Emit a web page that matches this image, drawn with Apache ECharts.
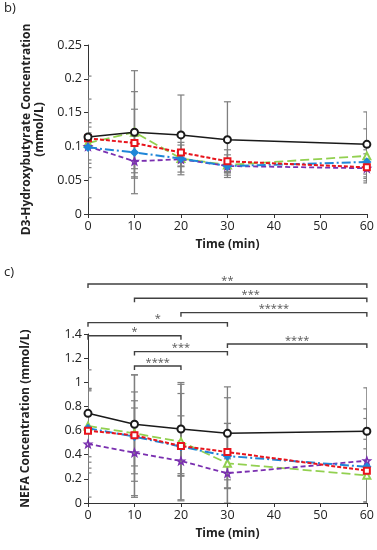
<!DOCTYPE html>
<html>
<head>
<meta charset="utf-8">
<script src="https://cdn.jsdelivr.net/npm/echarts@6/dist/echarts.min.js"></script>
<style>html,body{margin:0;padding:0;background:#fff}#c{width:377px;height:550px}</style>
</head>
<body>
<div id="c"></div>
<script>
// ---- data ----
var times = [0, 10, 20, 30, 60];
var xTicks = [0, 10, 20, 30, 40, 50, 60];

// Panel b) D3-Hydroxybutyrate (mmol/L)
var hbBlack  = [0.114, 0.121, 0.117, 0.110, 0.103];
var hbGreen  = [0.105, 0.121, 0.082, 0.0725, 0.086];
var hbRed    = [0.112, 0.105, 0.091, 0.078, 0.069];
var hbBlue   = [0.0986, 0.091, 0.082, 0.071, 0.077];
var hbPurple = [0.100, 0.078, 0.081, 0.071, 0.0676];
var hbBlackErr  = [0.090, 0.091, 0.059, 0.056, 0.048];
var hbGreenErr  = [0.030, 0.060, 0.020, 0.015, 0.040];
var hbRedErr    = [0.058, 0.050, 0.015, 0.017, 0.020];
var hbBlueErr   = [0.030, 0.024, 0.012, 0.010, 0.018];
var hbPurpleErr = [0.020, 0.025, 0.010, 0.008, 0.015];

// Panel c) NEFA (mmol/L)
var nfBlack  = [0.743, 0.652, 0.613, 0.577, 0.594];
var nfGreen  = [0.638, 0.577, 0.508, 0.329, 0.229];
var nfRed    = [0.599, 0.561, 0.472, 0.422, 0.268];
var nfBlue   = [0.619, 0.550, 0.467, 0.389, 0.300];
var nfPurple = [0.489, 0.417, 0.348, 0.246, 0.350];
var nfBlackErr  = [0.360, 0.410, 0.370, 0.385, 0.360];
var nfGreenErr  = [0.300, 0.270, 0.490, 0.330, 0.220];
var nfRedErr    = [0.350, 0.500, 0.250, 0.450, 0.260];
var nfBlueErr   = [0.330, 0.370, 0.440, 0.270, 0.400];
var nfPurpleErr = [0.440, 0.370, 0.120, 0.120, 0.430];

// significance brackets: [from, to, level, stars]
var bracketFrom  = [0, 10, 20, 0, 0, 30, 10, 10];
var bracketTo    = [60, 60, 60, 30, 20, 60, 30, 20];
var bracketLevel = [1.814, 1.696, 1.577, 1.494, 1.386, 1.317, 1.254, 1.135];
var bracketStars = ['**', '***', '*****', '*', '*', '****', '***', '****'];

// ---- build ----
var FONT = '"Open Sans", sans-serif';
var AX = '#333';
var names = ['black', 'green', 'red', 'blue', 'purple'];
var colors = {black: '#1a1a1a', green: '#92d050', red: '#e8141c', blue: '#1f86d8', purple: '#7a2fb0'};
var symbols = {
  black: 'emptyCircle', green: 'emptyTriangle', red: 'emptyRect', blue: 'diamond',
  purple: 'path://M0,-10L2.4,-3.3L9.5,-3.1L3.9,1.3L5.9,8.1L0,4.1L-5.9,8.1L-3.9,1.3L-9.5,-3.1L-2.4,-3.3Z'
};
var sizes = {black: 7, green: 7, red: 6, blue: 7, purple: 7};
var dashes = {black: 'solid', green: [9, 4], red: [4, 2], blue: [9, 3, 2, 3], purple: [5, 3]};
var widths = {black: 1.5, green: 1.8, red: 2, blue: 2, purple: 1.8};

var hbVals = {black: hbBlack, green: hbGreen, red: hbRed, blue: hbBlue, purple: hbPurple};
var hbErrs = {black: hbBlackErr, green: hbGreenErr, red: hbRedErr, blue: hbBlueErr, purple: hbPurpleErr};
var nfVals = {black: nfBlack, green: nfGreen, red: nfRed, blue: nfBlue, purple: nfPurple};
var nfErrs = {black: nfBlackErr, green: nfGreenErr, red: nfRedErr, blue: nfBlueErr, purple: nfPurpleErr};

function errSeries(idx, vals, errs) {
  return {
    type: 'custom', xAxisIndex: idx, yAxisIndex: idx, clip: true, z: 1, silent: true,
    data: times.map(function (t, i) { return [t, vals[i], errs[i]]; }),
    encode: {x: 0, y: 1},
    renderItem: function (params, api) {
      var x = api.value(0), v = api.value(1), e = api.value(2);
      var hi = api.coord([x, v + e]), lo = api.coord([x, v - e]);
      var w = 3.5;
      return {
        type: 'group', children: [
          {type: 'line', shape: {x1: hi[0], y1: hi[1], x2: lo[0], y2: lo[1]}, style: {stroke: '#7f7f7f', lineWidth: 1.3}},
          {type: 'line', shape: {x1: hi[0] - w, y1: hi[1], x2: hi[0] + w, y2: hi[1]}, style: {stroke: '#7f7f7f', lineWidth: 1.2}},
          {type: 'line', shape: {x1: lo[0] - w, y1: lo[1], x2: lo[0] + w, y2: lo[1]}, style: {stroke: '#7f7f7f', lineWidth: 1.2}}
        ]
      };
    }
  };
}

function lineSeries(idx, name, vals) {
  var order = {black: 10, green: 6, red: 9, blue: 8, purple: 7};
  return {
    type: 'line', xAxisIndex: idx, yAxisIndex: idx, z: order[name], animation: false,
    data: times.map(function (t, i) { return [t, vals[i]]; }),
    symbol: symbols[name], symbolSize: sizes[name],
    lineStyle: {color: colors[name], width: widths[name], type: dashes[name]},
    itemStyle: name === 'purple'
      ? {color: 'rgba(0,0,0,0)', borderColor: colors[name], borderWidth: 1.5}
      : {color: colors[name], borderColor: colors[name], borderWidth: 1.6}
  };
}

var series = [];
names.forEach(function (n) { series.push(errSeries(0, hbVals[n], hbErrs[n])); });
names.forEach(function (n) { series.push(errSeries(1, nfVals[n], nfErrs[n])); });
names.forEach(function (n) { series.push(lineSeries(0, n, hbVals[n])); });
names.forEach(function (n) { series.push(lineSeries(1, n, nfVals[n])); });

series.push({
  type: 'custom', xAxisIndex: 1, yAxisIndex: 1, clip: false, z: 2, silent: true,
  data: bracketFrom.map(function (f, i) { return [f, bracketTo[i], bracketLevel[i], bracketStars[i]]; }),
  dimensions: ['from', 'to', 'level', {name: 'stars', type: 'ordinal'}],
  encode: {x: [0, 1], y: 2},
  renderItem: function (params, api) {
    var i = params.dataIndex;
    var a = api.coord([bracketFrom[i], bracketLevel[i]]);
    var b = api.coord([bracketTo[i], bracketLevel[i]]);
    var d = 4;
    return {
      type: 'group', children: [
        {type: 'polyline', shape: {points: [[a[0], a[1] + d], [a[0], a[1]], [b[0], b[1]], [b[0], b[1] + d]]},
         style: {stroke: '#404040', lineWidth: 1.4, fill: null}},
        {type: 'text', x: (a[0] + b[0]) / 2, y: a[1] + 2,
         style: {text: bracketStars[i], fill: '#555', font: '11px ' + FONT, align: 'center', verticalAlign: 'bottom'}}
      ]
    };
  }
});

function xAxis(idx) {
  return {
    type: 'value', gridIndex: idx, min: 0, max: 60, interval: 10,
    name: 'Time (min)', nameLocation: 'middle', nameGap: 25,
    nameTextStyle: {fontFamily: FONT, fontSize: 12, fontWeight: 'bold', color: '#222'},
    axisLine: {show: true, lineStyle: {color: AX, width: 1}},
    axisTick: {show: true, length: 4, lineStyle: {color: AX}},
    axisLabel: {fontFamily: FONT, fontSize: 12.5, color: '#222', margin: 6},
    splitLine: {show: false}
  };
}

var option = {
  animation: false,
  backgroundColor: '#fff',
  grid: [
    {left: 88, top: 45, width: 279, height: 169},
    {left: 88, top: 334, width: 279, height: 169}
  ],
  xAxis: [xAxis(0), xAxis(1)],
  yAxis: [
    {
      type: 'value', gridIndex: 0, min: 0, max: 0.25, interval: 0.05,
      name: 'D3-Hydroxybutyrate Concentration\n(mmol/L)', nameLocation: 'middle', nameGap: 37,
      nameTextStyle: {fontFamily: FONT, fontSize: 12, fontWeight: 'bold', color: '#222', lineHeight: 13},
      axisLine: {show: true, lineStyle: {color: AX}},
      axisTick: {show: true, length: 4, lineStyle: {color: AX}},
      axisLabel: {fontFamily: FONT, fontSize: 12.5, color: '#222', margin: 6},
      splitLine: {show: false}
    },
    {
      type: 'value', gridIndex: 1, min: 0, max: 1.4, interval: 0.2,
      name: 'NEFA Concentration (mmol/L)', nameLocation: 'middle', nameGap: 56,
      nameTextStyle: {fontFamily: FONT, fontSize: 12, fontWeight: 'bold', color: '#222'},
      axisLine: {show: true, lineStyle: {color: AX}},
      axisTick: {show: true, length: 4, lineStyle: {color: AX}},
      axisLabel: {fontFamily: FONT, fontSize: 12.5, color: '#222', margin: 6},
      splitLine: {show: false}
    }
  ],
  graphic: [
    {type: 'text', left: 4, top: 2, style: {text: 'b)', font: '13px ' + FONT, fill: '#222'}},
    {type: 'text', left: 4, top: 266, style: {text: 'c)', font: '13px ' + FONT, fill: '#222'}}
  ],
  series: series
};

var chart = echarts.init(document.getElementById('c'), null, {renderer: 'canvas'});
chart.setOption(option);
</script>
</body>
</html>
